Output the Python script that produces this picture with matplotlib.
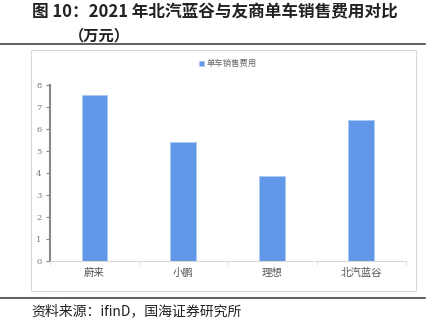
import matplotlib.pyplot as plt
from matplotlib.patches import Rectangle
from matplotlib.lines import Line2D

plt.rcParams['font.family'] = ['Noto Sans CJK SC', 'DejaVu Sans']

# 2021 单车销售费用（万元）
brands = ['蔚来', '小鹏', '理想', '北汽蓝谷']
cost = [7.53, 5.41, 3.86, 6.41]
yticks = [0, 1, 2, 3, 4, 5, 6, 7, 8]

fig = plt.figure(figsize=(4.42, 3.28), dpi=100)

# title + separators
fig.text(0.072, 0.962, '图 10：2021 年北汽蓝谷与友商单车销售费用对比',
         fontsize=12, fontweight='bold', color='#222222', va='center')
fig.text(0.155, 0.893, '（万元）', fontsize=11, fontweight='bold',
         color='#222222', va='center')
fig.add_artist(Line2D([0, 0.962], [0.866, 0.866], color='#444444', lw=1.2))
fig.add_artist(Line2D([0, 0.962], [0.092, 0.092], color='#444444', lw=1.2))
fig.text(0.072, 0.05, '资料来源：ifinD，国海证券研究所', fontsize=10,
         color='#222222', va='center')

# chart frame
fig.add_artist(Rectangle((0.070, 0.113), 0.872, 0.735, transform=fig.transFigure,
                         fill=False, edgecolor='#d9d9d9', lw=0.8))

ax = fig.add_axes([0.113, 0.204, 0.805, 0.537])
x = range(len(brands))
ax.bar(x, cost, width=0.29, color='#6097e6', edgecolor='#a9c8f2', lw=0.6,
       label='单车销售费用')
ax.set_xlim(-0.5, 3.5)
ax.set_ylim(0, 8)
ax.set_yticks(yticks)
ax.set_yticklabels([str(t) for t in yticks], family='DejaVu Serif',
                   fontsize=6, color='#777777')
ax.set_xticks(x)
ax.set_xticklabels(brands, fontsize=7.5, color='#555555')
ax.set_xticks([-0.5, 0.5, 1.5, 2.5, 3.5], minor=True)
ax.tick_params(axis='x', which='major', length=0, pad=5)
ax.tick_params(axis='x', which='minor', length=3, color='#d9d9d9')
ax.tick_params(axis='y', length=3, width=0.8, color='#888888', pad=3)

for s in ['top', 'right']:
    ax.spines[s].set_visible(False)
ax.spines['left'].set_color('#888888')
ax.spines['left'].set_linewidth(1.5)
ax.spines['bottom'].set_color('#d9d9d9')
ax.spines['bottom'].set_linewidth(0.8)

ax.legend(loc='center', bbox_to_anchor=(0.5, 1.12), frameon=False, fontsize=6,
          labelcolor='#666666', handlelength=0.6, handleheight=0.6,
          handletextpad=0.3)

fig.savefig('out.png', dpi=100)
